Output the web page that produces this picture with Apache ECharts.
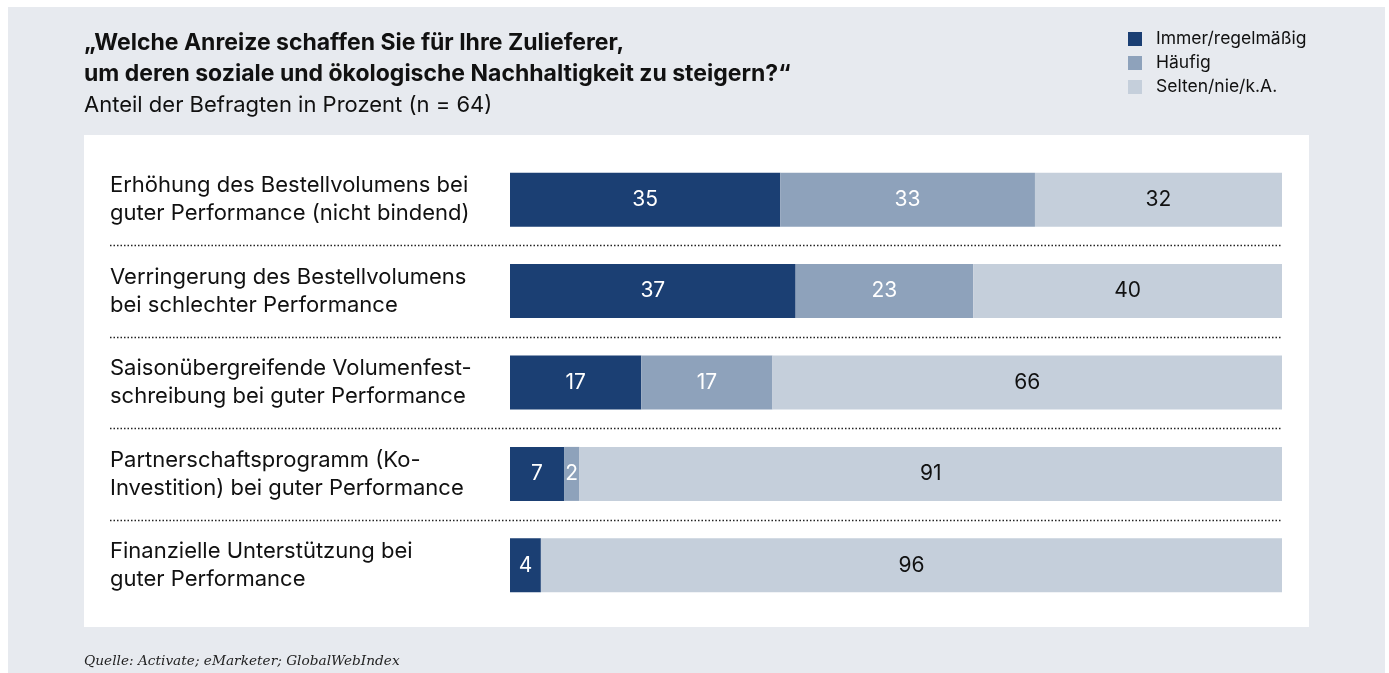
<!DOCTYPE html>
<html>
<head>
<meta charset="utf-8">
<script src="https://cdn.jsdelivr.net/npm/echarts@6/dist/echarts.min.js"></script>
<style>
  html, body { margin: 0; padding: 0; background: #fff; }
  #chart { width: 1389px; height: 673px; }
</style>
</head>
<body>
<div id="chart"></div>
<script>
// Daten
const categories = [
  'Erhöhung des Bestellvolumens bei\nguter Performance (nicht bindend)',
  'Verringerung des Bestellvolumens\nbei schlechter Performance',
  'Saisonübergreifende Volumenfest-\nschreibung bei guter Performance',
  'Partnerschaftsprogramm (Ko-\nInvestition) bei guter Performance',
  'Finanzielle Unterstützung bei\nguter Performance'
]
const seriesNames = ['Immer/regelmäßig', 'Häufig', 'Selten/nie/k.A.']
const immer = [35, 37, 17, 7, 4]
const haeufig = [33, 23, 17, 2, 0]
const selten = [32, 40, 66, 91, 96]

const colors = ['#1b3f73', '#8ea2bb', '#c5cfdb']
const font = 'Inter, "Liberation Sans", Arial, sans-serif'

const chart = echarts.init(document.getElementById('chart'))

function barSeries(name, data, color, labelColor) {
  return {
    name: name,
    type: 'bar',
    stack: 'total',
    barWidth: 54,
    data: data,
    itemStyle: { color: color },
    label: {
      show: true,
      position: 'inside',
      color: labelColor,
      fontFamily: font,
      fontSize: 21,
      formatter: function (p) { return p.value > 0 ? p.value : '' }
    },
    emphasis: { disabled: true }
  }
}

const option = {
  animation: false,
  graphic: [
    { type: 'rect', z: -10, silent: true, shape: { x: 8, y: 7, width: 1377, height: 666 }, style: { fill: '#e7eaef' } },
    { type: 'rect', z: -9, silent: true, shape: { x: 84, y: 135, width: 1225, height: 492 }, style: { fill: '#ffffff' } },
    {
      type: 'text', left: 84, top: 654,
      style: { text: 'Quelle: Activate; eMarketer; GlobalWebIndex', fill: '#222', font: 'italic 13.7px "DejaVu Serif", serif' }
    }
  ],
  title: {
    left: 84,
    top: 28,
    padding: 0,
    text: '„Welche Anreize schaffen Sie für Ihre Zulieferer,\num deren soziale und ökologische Nachhaltigkeit zu steigern?“',
    subtext: 'Anteil der Befragten in Prozent (n = 64)',
    itemGap: 4,
    textStyle: { fontFamily: font, fontSize: 23, fontWeight: 'bold', color: '#111', lineHeight: 31 },
    subtextStyle: { fontFamily: font, fontSize: 22, color: '#111' }
  },
  legend: {
    orient: 'vertical',
    left: 1128,
    top: 30,
    padding: 0,
    icon: 'rect',
    itemWidth: 14,
    itemHeight: 14,
    itemGap: 6,
    selectedMode: false,
    data: seriesNames,
    textStyle: { fontFamily: font, fontSize: 17.5, lineHeight: 14, color: '#111', padding: [0, 0, 0, 9] }
  },
  grid: { left: 510, right: 107, top: 154, bottom: 62, containLabel: false },
  xAxis: {
    type: 'value', min: 0, max: 100, show: false
  },
  yAxis: {
    type: 'category',
    inverse: true,
    data: categories,
    axisLine: { show: false },
    axisTick: { show: false },
    splitLine: { show: false },
    axisLabel: {
      margin: 400,
      align: 'left',
      fontFamily: font,
      fontSize: 22,
      lineHeight: 28,
      color: '#111'
    }
  },
  series: [
    barSeries(seriesNames[0], immer, colors[0], '#fff'),
    barSeries(seriesNames[1], haeufig, colors[1], '#fff'),
    barSeries(seriesNames[2], selten, colors[2], '#111')
  ]
}
chart.setOption(option)

// gepunktete Trennlinien zwischen den Kategorien
const seps = []
const xEnd = chart.convertToPixel({ xAxisIndex: 0 }, 100)
for (let i = 0; i < categories.length - 1; i++) {
  const y = (chart.convertToPixel({ yAxisIndex: 0 }, i) + chart.convertToPixel({ yAxisIndex: 0 }, i + 1)) / 2
  seps.push({
    type: 'line', silent: true, z: -5,
    shape: { x1: 110, y1: Math.round(y) + 0.5, x2: xEnd, y2: Math.round(y) + 0.5 },
    style: { stroke: '#222', lineWidth: 1.5, lineDash: [1.5, 2] }
  })
}
chart.setOption({ graphic: option.graphic.concat(seps) })
</script>
</body>
</html>
